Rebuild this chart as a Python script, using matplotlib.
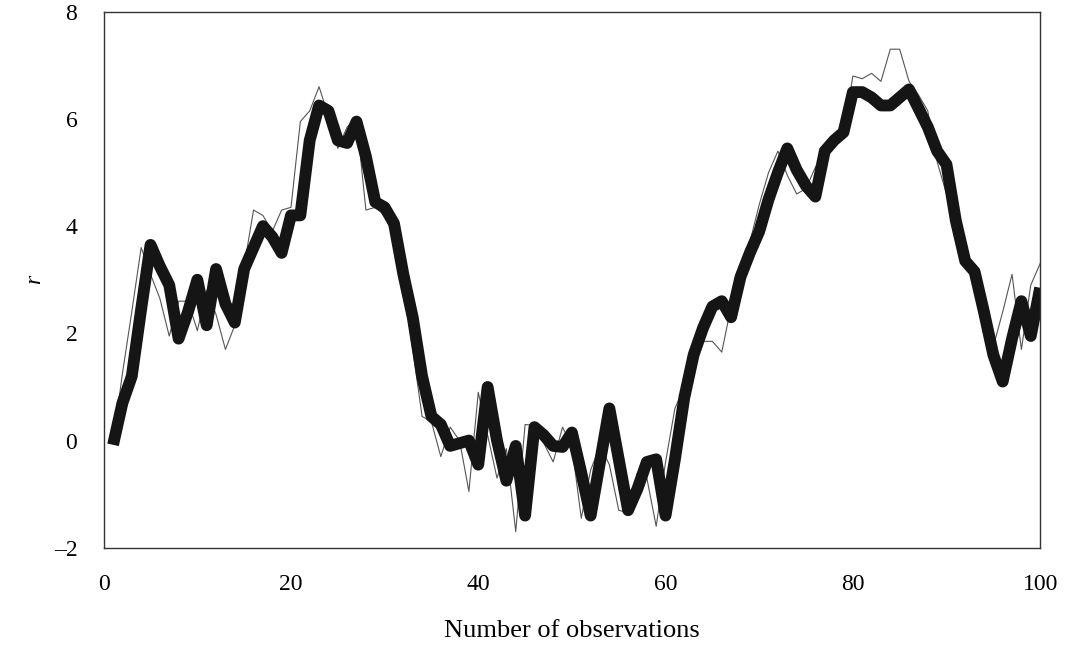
import numpy as np
import matplotlib
matplotlib.use("Agg")
import matplotlib.pyplot as plt

# observation index
obs = np.arange(1, 101)

# thin line: observed r
r_obs = [-0.05, 1.25, 2.4, 3.6, 3.1, 2.65, 1.95, 2.6, 2.6, 2.05,
         2.8, 2.35, 1.7, 2.15, 3.25, 4.3, 4.2, 3.9, 4.3, 4.35,
         5.95, 6.15, 6.6, 6.05, 5.45, 5.85, 6.0, 4.3, 4.35, 4.2,
         3.8, 2.9, 1.7, 0.45, 0.35, -0.3, 0.25, 0.0, -0.95, 0.9,
         0.1, -0.7, -0.15, -1.7, 0.3, 0.28, -0.05, -0.4, 0.25, -0.1,
         -1.45, -0.55, -0.1, -0.45, -1.3, -1.35, -0.6, -0.7, -1.6, -0.4,
         0.6, 1.0, 1.45, 1.85, 1.85, 1.65, 2.5, 3.2, 3.7, 4.4,
         5.0, 5.4, 4.95, 4.6, 4.7, 5.1, 5.35, 5.55, 5.7, 6.8,
         6.75, 6.85, 6.7, 7.3, 7.3, 6.7, 6.45, 6.15, 5.2, 4.6,
         3.9, 3.5, 3.2, 2.5, 1.75, 2.4, 3.1, 1.7, 2.9, 3.3]

# thick line: estimated r
r_est = [-0.08, 0.7, 1.2, 2.45, 3.65, 3.25, 2.9, 1.9, 2.4, 3.0,
         2.15, 3.2, 2.55, 2.2, 3.2, 3.6, 4.0, 3.8, 3.5, 4.2,
         4.2, 5.6, 6.25, 6.15, 5.6, 5.55, 5.95, 5.3, 4.45, 4.35,
         4.05, 3.1, 2.3, 1.2, 0.45, 0.3, -0.1, -0.05, 0.0, -0.45,
         1.0, 0.0, -0.75, -0.1, -1.4, 0.25, 0.1, -0.1, -0.12, 0.15,
         -0.6, -1.4, -0.4, 0.6, -0.35, -1.3, -0.9, -0.4, -0.35, -1.4,
         -0.35, 0.8, 1.6, 2.1, 2.5, 2.6, 2.3, 3.05, 3.5, 3.9,
         4.5, 5.0, 5.45, 5.05, 4.75, 4.55, 5.4, 5.6, 5.75, 6.5,
         6.5, 6.4, 6.25, 6.25, 6.4, 6.55, 6.2, 5.85, 5.4, 5.15,
         4.1, 3.35, 3.15, 2.4, 1.6, 1.1, 1.9, 2.6, 1.95, 2.85]

yticks = [-2, 0, 2, 4, 6, 8]
ytick_labels = ["\u20132", "0", "2", "4", "6", "8"]
xticks = [0, 20, 40, 60, 80, 100]

plt.rcParams["font.family"] = ["Liberation Serif", "DejaVu Serif"]

fig = plt.figure(figsize=(10.69, 6.49), dpi=100)
ax = fig.add_axes([0.097, 0.156, 0.876, 0.826])

ax.plot(obs, r_obs, color="#555555", lw=0.8)
ax.plot(obs, r_est, color="#151515", lw=8.5, solid_joinstyle="round",
        solid_capstyle="butt")

ax.set_xlim(0, 100)
ax.set_ylim(-2, 8)
ax.set_xticks(xticks)
ax.set_yticks(yticks)
ax.set_yticklabels(ytick_labels)
ax.tick_params(length=0, pad=19, labelsize=17)
for s in ax.spines.values():
    s.set_color("#333333")
    s.set_linewidth(1.0)

ax.set_xlabel("Number of observations", fontsize=19, labelpad=18)
ax.set_ylabel("r", fontsize=17, style="italic", labelpad=6)

fig.savefig("out.png", dpi=100)
